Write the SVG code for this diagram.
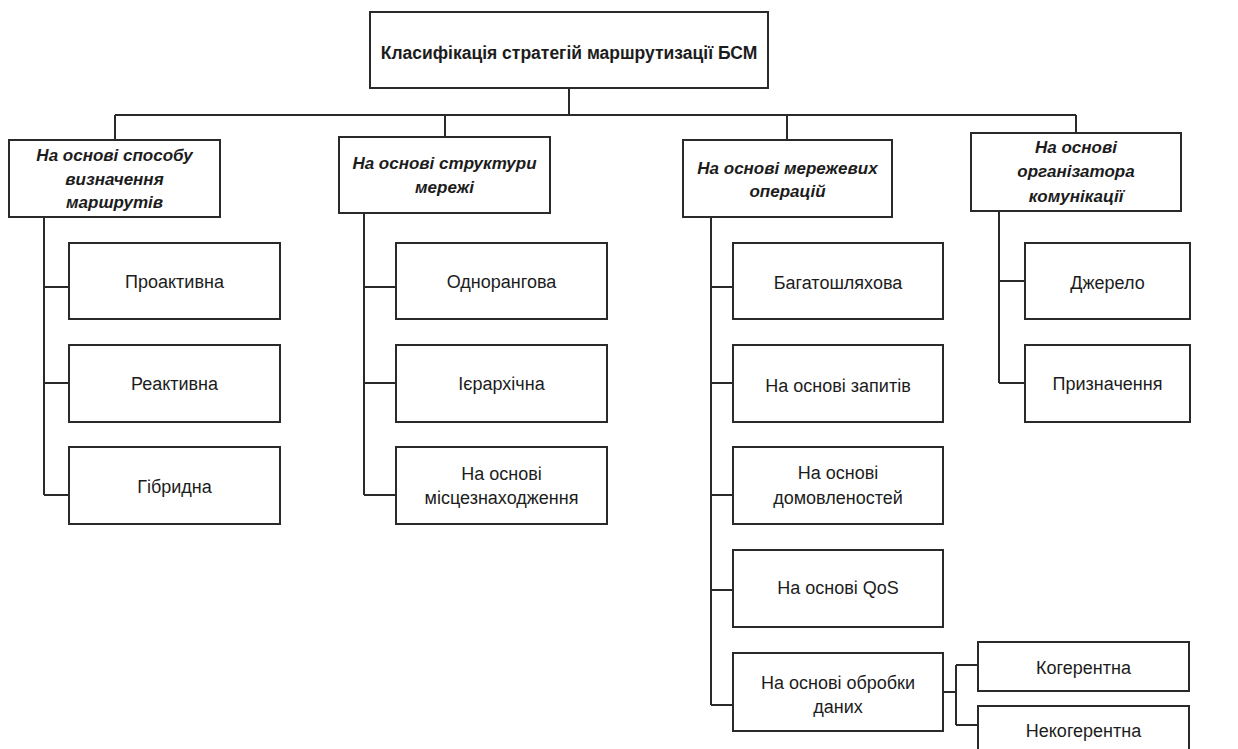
<svg xmlns="http://www.w3.org/2000/svg" width="1238" height="749" viewBox="0 0 1238 749">
  <style>
    .box { fill: #ffffff; stroke: #2a2a2a; stroke-width: 2; }
    .wire { fill: none; stroke: #2a2a2a; stroke-width: 2; }
    text { font-family: "Liberation Sans", Arial, sans-serif; fill: #1c1c1c; text-anchor: middle; }
    .title { font-size: 17.5px; font-weight: bold; }
    .cat { font-size: 17px; font-weight: bold; font-style: italic; }
    .leaf { font-size: 18px; }
  </style>
  <rect width="1238" height="749" fill="#ffffff"/>

  <!-- connectors -->
  <g id="connectors">
    <path class="wire" d="M569 88 V115 M115 115 H1076 M115 115 V140 M445 115 V137 M787 115 V140 M1076 115 V133"/>
    <path class="wire" d="M44 217 V495 M44 287 H69 M44 383 H69 M44 495 H69"/>
    <path class="wire" d="M364 213 V495 M364 287 H396 M364 383 H396 M364 495 H396"/>
    <path class="wire" d="M711 217 V705 M711 287 H733 M711 383 H733 M711 495 H733 M711 590 H733 M711 705 H733"/>
    <path class="wire" d="M999 211 V383 M999 281 H1025 M999 383 H1025"/>
    <path class="wire" d="M943 692 H956 M956 665 V725 M956 665 H978 M956 725 H978"/>
  </g>

  <!-- root -->
  <g id="root">
    <rect class="box" x="370" y="12" width="398" height="76"/>
    <text class="title" x="569" y="59">Класифікація стратегій маршрутизації БСМ</text>
  </g>

  <!-- categories -->
  <g id="cat-route">
    <rect class="box" x="9" y="140" width="211" height="77"/>
    <text class="cat" x="114.5" y="161">На основі способу</text>
    <text class="cat" x="114.5" y="185">визначення</text>
    <text class="cat" x="114.5" y="208">маршрутів</text>
  </g>
  <g id="cat-structure">
    <rect class="box" x="339" y="137" width="211" height="76"/>
    <text class="cat" x="444.5" y="169">На основі структури</text>
    <text class="cat" x="444.5" y="193">мережі</text>
  </g>
  <g id="cat-operations">
    <rect class="box" x="683" y="140" width="209" height="77"/>
    <text class="cat" x="787.5" y="174">На основі мережевих</text>
    <text class="cat" x="787.5" y="197">операцій</text>
  </g>
  <g id="cat-initiator">
    <rect class="box" x="971" y="133" width="210" height="78"/>
    <text class="cat" x="1076" y="153">На основі</text>
    <text class="cat" x="1076" y="177">організатора</text>
    <text class="cat" x="1076" y="202">комунікації</text>
  </g>

  <!-- route discovery leaves -->
  <g id="proactive">
    <rect class="box" x="69" y="243" width="211" height="76"/>
    <text class="leaf" x="174.5" y="288">Проактивна</text>
  </g>
  <g id="reactive">
    <rect class="box" x="69" y="345" width="211" height="77"/>
    <text class="leaf" x="174.5" y="390">Реактивна</text>
  </g>
  <g id="hybrid">
    <rect class="box" x="69" y="447" width="211" height="77"/>
    <text class="leaf" x="174.5" y="493">Гібридна</text>
  </g>

  <!-- network structure leaves -->
  <g id="flat">
    <rect class="box" x="396" y="243" width="211" height="76"/>
    <text class="leaf" x="501.5" y="288">Однорангова</text>
  </g>
  <g id="hierarchical">
    <rect class="box" x="396" y="345" width="211" height="77"/>
    <text class="leaf" x="501.5" y="390">Ієрархічна</text>
  </g>
  <g id="location">
    <rect class="box" x="396" y="447" width="211" height="77"/>
    <text class="leaf" x="501.5" y="480">На основі</text>
    <text class="leaf" x="501.5" y="504">місцезнаходження</text>
  </g>

  <!-- network operation leaves -->
  <g id="multipath">
    <rect class="box" x="733" y="243" width="210" height="76"/>
    <text class="leaf" x="838" y="289">Багатошляхова</text>
  </g>
  <g id="query">
    <rect class="box" x="733" y="345" width="210" height="77"/>
    <text class="leaf" x="838" y="392">На основі запитів</text>
  </g>
  <g id="negotiation">
    <rect class="box" x="733" y="447" width="210" height="77"/>
    <text class="leaf" x="838" y="479">На основі</text>
    <text class="leaf" x="838" y="504">домовленостей</text>
  </g>
  <g id="qos">
    <rect class="box" x="733" y="550" width="210" height="77"/>
    <text class="leaf" x="838" y="594">На основі QoS</text>
  </g>
  <g id="processing">
    <rect class="box" x="733" y="653" width="210" height="78"/>
    <text class="leaf" x="838" y="689">На основі обробки</text>
    <text class="leaf" x="838" y="713">даних</text>
  </g>
  <g id="coherent">
    <rect class="box" x="978" y="642" width="211" height="49"/>
    <text class="leaf" x="1083.5" y="674">Когерентна</text>
  </g>
  <g id="noncoherent">
    <rect class="box" x="978" y="706" width="211" height="60"/>
    <text class="leaf" x="1083.5" y="737">Некогерентна</text>
  </g>

  <!-- initiator leaves -->
  <g id="source">
    <rect class="box" x="1025" y="243" width="165" height="76"/>
    <text class="leaf" x="1107.5" y="289">Джерело</text>
  </g>
  <g id="destination">
    <rect class="box" x="1025" y="345" width="165" height="77"/>
    <text class="leaf" x="1107.5" y="390">Призначення</text>
  </g>
</svg>
